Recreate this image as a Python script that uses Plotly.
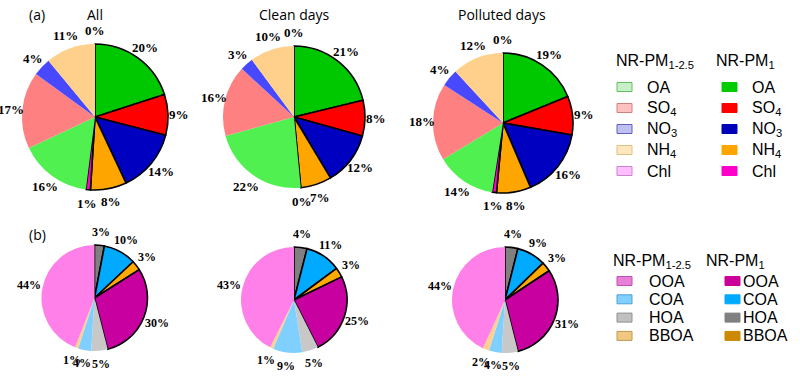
import math
import plotly.graph_objects as go

W, H = 800, 377

# ---------------- data ----------------
titles = ["All", "Clean days", "Polluted days"]

top_species = ["OA", "SO<sub>4</sub>", "NO<sub>3</sub>", "NH<sub>4</sub>", "Chl"]
# order clockwise from 12 o'clock: PM1 (OA, SO4, NO3, NH4, Chl), then PM1-2.5 (OA, SO4, NO3, NH4, Chl)
top_slice_ids = ["OA PM1", "SO4 PM1", "NO3 PM1", "NH4 PM1", "Chl PM1",
                 "OA PM1-2.5", "SO4 PM1-2.5", "NO3 PM1-2.5", "NH4 PM1-2.5", "Chl PM1-2.5"]
top_all = [20, 9, 14, 8, 1, 16, 17, 4, 11, 0]
top_clean = [21, 8, 12, 7, 0, 22, 16, 3, 10, 0]
top_polluted = [19, 9, 16, 8, 1, 14, 18, 4, 12, 0]

bot_species = ["OOA", "COA", "HOA", "BBOA"]
# order clockwise from 12 o'clock: PM1 (HOA, COA, BBOA, OOA), then PM1-2.5 (HOA, COA, BBOA, OOA)
bot_slice_ids = ["HOA PM1", "COA PM1", "BBOA PM1", "OOA PM1",
                 "HOA PM1-2.5", "COA PM1-2.5", "BBOA PM1-2.5", "OOA PM1-2.5"]
bot_all = [3, 10, 3, 30, 5, 4, 1, 44]
bot_clean = [4, 11, 3, 25, 5, 9, 1, 43]
bot_polluted = [4, 9, 3, 31, 5, 4, 2, 44]

# ---------------- styles ----------------
top_colors = ["#00C800", "#FF0000", "#0000C0", "#FFA500", "#FF00C8",
              "#50F050", "#FF8080", "#4848FF", "#FFD08C", "#FFA0FF"]
bot_colors = ["#808080", "#00AAFF", "#FFAA00", "#C800A0",
              "#C8C8C8", "#80D0FF", "#FFD090", "#FF80E8"]

top_leg_pm25 = [("#C8F0C8", "#60C060"), ("#FFC0C0", "#D08080"), ("#C0C0F0", "#6060C0"),
                ("#FFE8C0", "#E0C080"), ("#FFC0FF", "#D080D0")]
top_leg_pm1 = ["#00CC00", "#FF0000", "#0000BB", "#FFA500", "#FF00CC"]
bot_leg_pm25 = [("#E880D8", "#C050B0"), ("#80D0FF", "#50A0D0"), ("#C0C0C0", "#909090"),
                ("#F0C880", "#C09850")]
bot_leg_pm1 = ["#CC0099", "#00AAFF", "#808080", "#CC8800"]

# pie geometry in pixels: (cx, cy, r)
top_geom = [(95, 117, 73), (294, 117, 71), (503, 123, 70)]
bot_geom = [(94.5, 298, 53), (294, 300, 53), (505, 300, 53)]


def px(x):
    return x / W


def py(y):
    return 1 - y / H


fig = go.Figure()
annotations = []
shapes = []


def add_pie(ids, vals, colors, n_pm1, geom, off_v, off_h, fsize):
    cx, cy, r = geom
    lw = [1.6 if i < n_pm1 else 0 for i in range(len(vals))]
    lc = ["black" if i < n_pm1 else "rgba(0,0,0,0)" for i in range(len(vals))]
    fig.add_trace(go.Pie(
        labels=ids, values=vals, sort=False, direction="clockwise", rotation=0,
        marker=dict(colors=colors, line=dict(color=lc, width=lw)),
        textinfo="none", hoverinfo="label+value", showlegend=False,
        domain=dict(x=[px(cx - r), px(cx + r)], y=[py(cy + r), py(cy - r)]),
    ))
    total = sum(vals)
    cum = 0
    for v in vals:
        mid = (cum + v / 2) / total * 2 * math.pi
        cum += v
        s, c = math.sin(mid), math.cos(mid)
        d = r + off_v * c * c + off_h * s * s
        x = cx + d * s
        y = cy - d * c
        annotations.append(dict(
            x=px(x), y=py(y), xref="paper", yref="paper", showarrow=False,
            text="<b>%d%%</b>" % v, xanchor="center", yanchor="middle",
            font=dict(family="Liberation Serif", size=fsize, color="black"),
        ))


for i, vals in enumerate([top_all, top_clean, top_polluted]):
    add_pie(top_slice_ids, vals, top_colors, 5, top_geom[i], 13.5, 11.5, 13)
for i, vals in enumerate([bot_all, bot_clean, bot_polluted]):
    add_pie(bot_slice_ids, vals, bot_colors, 4, bot_geom[i], 13, 14, 12)

# titles
title_x = [95, 294, 502]
for t, x in zip(titles, title_x):
    annotations.append(dict(x=px(x), y=py(14), xref="paper", yref="paper", showarrow=False,
                            text=t, xanchor="center", yanchor="middle",
                            font=dict(family="Open Sans", size=14, color="black")))
annotations.append(dict(x=px(27), y=py(14), xref="paper", yref="paper", showarrow=False,
                        text="(a)", xanchor="left", yanchor="middle",
                        font=dict(family="Open Sans", size=14, color="black")))
annotations.append(dict(x=px(27), y=py(234), xref="paper", yref="paper", showarrow=False,
                        text="(b)", xanchor="left", yanchor="middle",
                        font=dict(family="Open Sans", size=14, color="black")))


def legend_block(species, pm25, pm1, head_y, head_x1, head_x2, row0, dy,
                 sw1, tx1, sw2, tx2, fsize):
    f = dict(family="Liberation Sans", size=fsize, color="black")
    annotations.append(dict(x=px(head_x1), y=py(head_y), xref="paper", yref="paper",
                            showarrow=False, text="NR-PM<sub>1-2.5</sub>",
                            xanchor="left", yanchor="middle", font=f))
    annotations.append(dict(x=px(head_x2), y=py(head_y), xref="paper", yref="paper",
                            showarrow=False, text="NR-PM<sub>1</sub>",
                            xanchor="left", yanchor="middle", font=f))
    for k, sp in enumerate(species):
        yc = row0 + k * dy
        fill, edge = pm25[k]
        shapes.append(dict(type="rect", xref="paper", yref="paper",
                           x0=px(sw1), x1=px(sw1 + 15), y0=py(yc + 4.5), y1=py(yc - 4.5),
                           fillcolor=fill, line=dict(color=edge, width=1)))
        shapes.append(dict(type="rect", xref="paper", yref="paper",
                           x0=px(sw2), x1=px(sw2 + 15), y0=py(yc + 4.5), y1=py(yc - 4.5),
                           fillcolor=pm1[k], line=dict(color=pm1[k], width=1)))
        annotations.append(dict(x=px(tx1), y=py(yc), xref="paper", yref="paper",
                                showarrow=False, text=sp, xanchor="left", yanchor="middle",
                                font=f))
        annotations.append(dict(x=px(tx2), y=py(yc), xref="paper", yref="paper",
                                showarrow=False, text=sp, xanchor="left", yanchor="middle",
                                font=f))


legend_block(top_species, top_leg_pm25, top_leg_pm1, 62, 614, 714, 87, 21,
             617, 645, 722, 750, 16)
legend_block(bot_species, bot_leg_pm25, bot_leg_pm1, 261, 611, 704, 281, 18.3,
             617, 647, 725, 741, 16)

fig.update_layout(
    width=W, height=H, margin=dict(l=0, r=0, t=0, b=0),
    paper_bgcolor="white", plot_bgcolor="white",
    annotations=annotations, shapes=shapes, showlegend=False,
)

fig.write_html("out.html", config={"displayModeBar": False},
               post_script="document.body.style.margin='0';document.body.style.overflow='hidden';")
